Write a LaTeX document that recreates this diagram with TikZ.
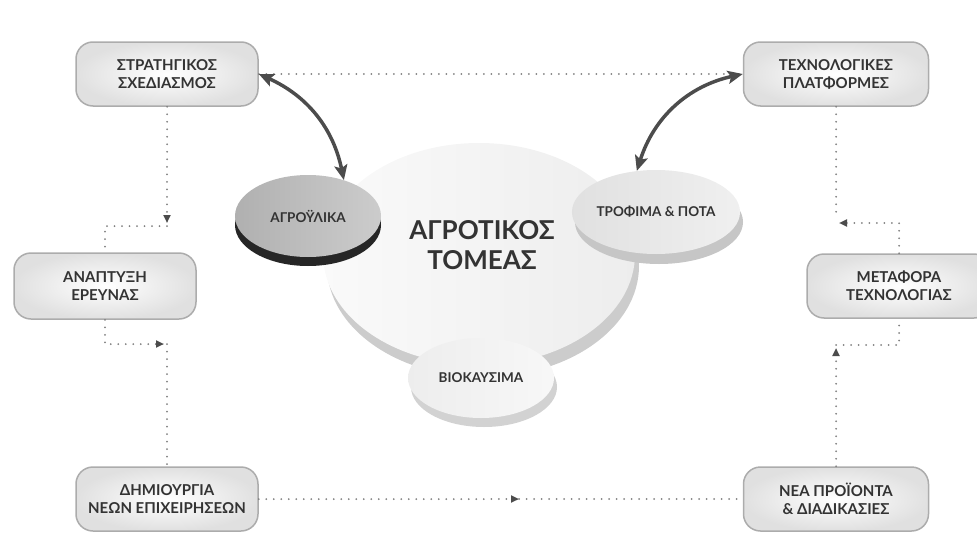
\documentclass[tikz,border=0pt]{standalone}
\usepackage{fontspec}
\setmainfont{Lato}
\usetikzlibrary{positioning, shapes.geometric, arrows.meta, shadows}

\tikzset{
  stagebox/.style={draw=gray!65, line width=1.5pt, rounded corners=17pt,
    inner color=white, outer color=gray!24, minimum width=182pt, minimum height=64pt,
    align=center, font=\fontsize{15}{18}\selectfont\bfseries, text=black!80},
  disc/.style={ellipse, inner sep=0pt, font=\fontsize{13.5}{15}\selectfont\bfseries, text=black!80},
  dotlink/.style={draw=black!50, line width=2pt, line cap=round, dash pattern=on 0pt off 7.5pt},
  dottip/.style={-{Triangle[length=8pt,width=7pt,color=black!70]}},
  bendlink/.style={draw=black!70, line width=3.5pt,
    {Stealth[length=15pt,width=13pt,inset=3pt]}-{Stealth[length=15pt,width=13pt,inset=3pt]}},
}

\begin{document}
\begin{tikzpicture}[x=1pt, y=-1pt]
  \useasboundingbox (0,0) rectangle (977,554);

  % the sector disc and its three parts
  \node[disc, minimum width=312pt, minimum height=222pt, left color=gray!4, right color=gray!14,
    drop shadow={shadow xshift=4pt, shadow yshift=-12pt, fill=gray!40, opacity=1}] (sector) at (479,254) {};
  \node[font=\fontsize{26}{30}\selectfont\bfseries, text=black!80, align=center] (sectortext) at (482,245) {ΑΓΡΟΤΙΚΟΣ\\ΤΟΜΕΑΣ};
  \node[disc, minimum width=146pt, minimum height=82pt, left color=gray!62, right color=gray!40,
    drop shadow={shadow xshift=0pt, shadow yshift=-9pt, fill=black!85, opacity=1}] (agro) at (308,216) {ΑΓΡΟΫΛΙΚΑ};
  \node[disc, minimum width=140pt, minimum height=84pt, left color=gray!24, right color=gray!12,
    drop shadow={shadow xshift=3pt, shadow yshift=-10pt, fill=gray!45, opacity=1}] (food) at (656,212) {ΤΡΟΦΙΜΑ \& ΠΟΤΑ};
  \node[disc, minimum width=146pt, minimum height=80pt, left color=gray!14, right color=gray!6,
    drop shadow={shadow xshift=3pt, shadow yshift=-9pt, fill=gray!35, opacity=1}] (fuel) at (481,378) {ΒΙΟΚΑΥΣΙΜΑ};

  % boxes
  \node[stagebox] (plan) at (167,74) {ΣΤΡΑΤΗΓΙΚΟΣ\\ΣΧΕΔΙΑΣΜΟΣ};
  \node[stagebox, minimum width=185pt] (tech) at (836,74) {ΤΕΧΝΟΛΟΓΙΚΕΣ\\ΠΛΑΤΦΟΡΜΕΣ};
  \node[stagebox, minimum height=66pt] (research) at (105,286) {ΑΝΑΠΤΥΞΗ\\ΕΡΕΥΝΑΣ};
  \node[stagebox, minimum width=184pt] (transfer) at (899,286) {ΜΕΤΑΦΟΡΑ\\ΤΕΧΝΟΛΟΓΙΑΣ};
  \node[stagebox] (startup) at (167,499) {ΔΗΜΙΟΥΡΓΙΑ\\ΝΕΩΝ ΕΠΙΧΕΙΡΗΣΕΩΝ};
  \node[stagebox, minimum width=185pt] (product) at (836,499) {ΝΕΑ ΠΡΟΪΟΝΤΑ\\\& ΔΙΑΔΙΚΑΣΙΕΣ};

  \coordinate (lk1) at (167,226);
  \coordinate (lk2) at (167,344);
  \coordinate (rk1) at (836,223);
  \coordinate (rk2) at (836,345);
  \coordinate (bmid) at (519,499);

  % dotted loop
  \draw[dotlink] (plan.east) -- (tech.west);
  \draw[dotlink, dottip] (plan.south) -- ([yshift=3pt]lk1);
  \draw[dotlink] (lk1) -| (research.north);
  \draw[dotlink, dottip] (research.south) |- ([xshift=-3pt]lk2);
  \draw[dotlink] (lk2) -- (startup.north);
  \draw[dotlink, dottip] (startup.east) -- (bmid);
  \draw[dotlink] (bmid) -- (product.west);
  \draw[dotlink, dottip] (product.north) -- ([yshift=-3pt]rk2);
  \draw[dotlink] (rk2) -| (transfer.south);
  \draw[dotlink, dottip] (transfer.north) |- ([xshift=3pt]rk1);
  \draw[dotlink] (tech.south) -- ([yshift=4pt]rk1);

  % thick arrows
  \draw[bendlink] (plan.east) to[bend left=27] (agro.45);
  \draw[bendlink] (tech.west) to[bend right=30] (food.115);
\end{tikzpicture}
\end{document}
